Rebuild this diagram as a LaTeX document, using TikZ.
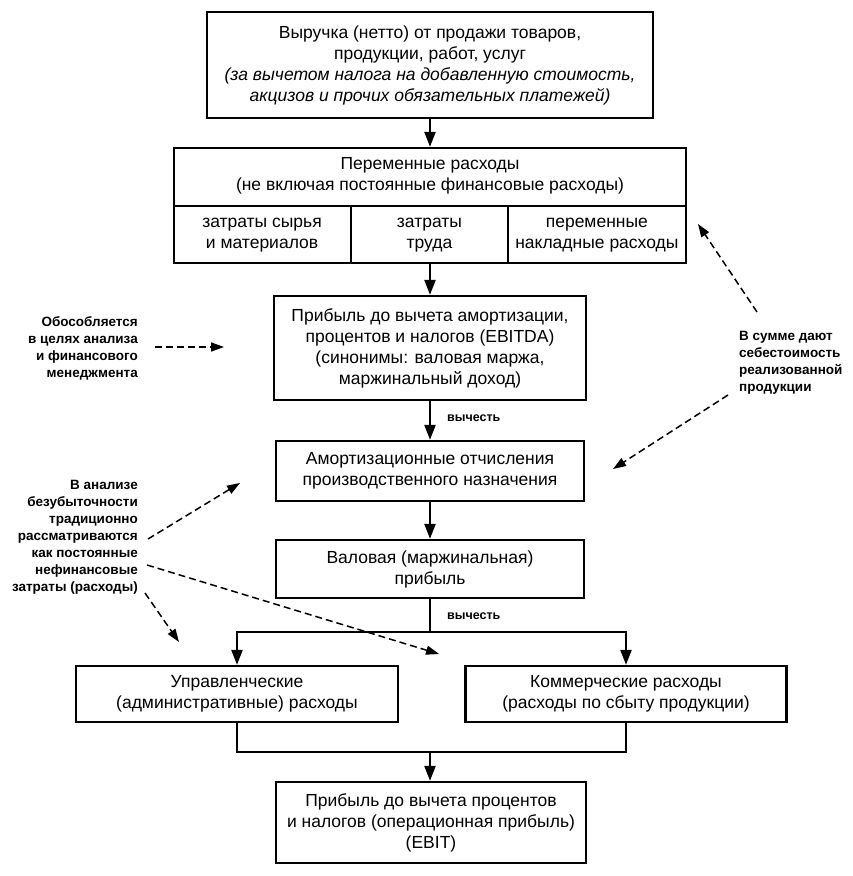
\documentclass[tikz,border=0pt]{standalone}
\usepackage{fontspec}
\setmainfont{Liberation Sans}
\usetikzlibrary{arrows.meta}
\begin{document}
\begin{tikzpicture}[x=1pt,y=-1pt,
  box/.style={draw,line width=2.3pt,align=center,inner sep=0pt,font=\fontsize{17.5}{21}\selectfont},
  cell/.style={align=center,inner sep=0pt,font=\fontsize{17.5}{21}\selectfont},
  divider/.style={line width=1.9pt},
  flow/.style={line width=2.3pt,-{Triangle[length=15pt,width=11pt]}},
  line/.style={line width=2.3pt},
  note/.style={align=right,inner sep=0pt,font=\bfseries\fontsize{13.5}{17}\selectfont},
  notel/.style={align=left,inner sep=0pt,font=\bfseries\fontsize{13.5}{17}\selectfont},
  dasharrow/.style={line width=1.5pt,dash pattern=on 7pt off 4pt,-{Triangle[length=13pt,width=9pt]}},
  small/.style={inner sep=0pt,font=\bfseries\fontsize{12.5}{14}\selectfont}
]
\useasboundingbox (0,0) rectangle (853,876);

\node[box,minimum width=446pt,minimum height=106pt] (top) at (430,65)
 {Выручка (нетто) от продажи товаров,\\продукции, работ, услуг\\
  \itshape (за вычетом налога на добавленную стоимость,\\
  \itshape акцизов и прочих обязательных платежей)};

\node[box,minimum width=512pt,minimum height=115pt] (var) at (430,205.5) {};
\node[cell,minimum width=512pt,minimum height=57pt,anchor=north] (varh) at (var.north)
 {Переменные расходы\\(не включая постоянные финансовые расходы)};
\node[cell,minimum width=178pt,minimum height=58pt,anchor=south west] (c1) at (var.south west)
 {затраты сырья\\и материалов};
\node[cell,minimum width=156pt,minimum height=58pt,anchor=west] (c2) at (c1.east)
 {затраты\\труда};
\node[cell,minimum width=178pt,minimum height=58pt,anchor=west] (c3) at (c2.east)
 {переменные\\накладные расходы};
\draw[divider] (var.west |- c1.north) -- (var.east |- c1.north);
\draw[divider] (c1.north east) -- (c1.south east);
\draw[divider] (c3.north west) -- (c3.south west);

\node[box,minimum width=312pt,minimum height=104pt] (ebitda) at (430,348)
 {Прибыль до вычета амортизации,\\процентов и налогов (EBITDA)\\(синонимы: валовая маржа,\\маржинальный доход)};
\node[box,minimum width=308pt,minimum height=60pt] (amort) at (430,471)
 {Амортизационные отчисления\\производственного назначения};
\node[box,minimum width=308pt,minimum height=58pt] (gross) at (430,569)
 {Валовая (маржинальная)\\прибыль};
\node[box,minimum width=322pt,minimum height=56pt] (mgmt) at (237,694)
 {Управленческие\\(административные) расходы};
\node[box,minimum width=321pt,minimum height=56pt] (comm) at (626,694)
 {Коммерческие расходы\\(расходы по сбыту продукции)};
\node[box,minimum width=310pt,minimum height=81pt] (ebit) at (431,822.5)
 {Прибыль до вычета процентов\\и налогов (операционная прибыль)\\(EBIT)};

% main flow
\draw[flow] (top.south -| ebitda.north) -- (var.north -| ebitda.north);
\draw[flow] (var.south -| ebitda.north) -- (ebitda.north);
\draw[flow] (ebitda.south) -- (amort.north -| ebitda.south);
\node[small,anchor=west] (sub1) at (447,418) {вычесть};
\draw[flow] (amort.south) -- (gross.north);
\coordinate (split) at (430,632);
\draw[line] (gross.south) -- (split);
\draw[flow] (split) -| (mgmt.north);
\draw[flow] (split) -| (comm.north);
\node[small,anchor=west] (sub2) at (447,616) {вычесть};
\coordinate (merge) at (430,752);
\draw[line] (mgmt.south) |- (merge);
\draw[line] (comm.south) |- (merge);
\draw[flow] (merge) -- (merge |- ebit.north);

% side notes
\node[note,anchor=east] (n1) at (138,348)
 {Обособляется\\в целях анализа\\и финансового\\менеджмента};
\coordinate (n1s) at (155,347);
\coordinate (n1e) at (224,347);
\draw[dasharrow] (n1s) -- (n1e);

\node[notel,anchor=west] (n2) at (739,363)
 {В сумме дают\\себестоимость\\реализованной\\продукции};
\coordinate (n2s1) at (757,312);
\coordinate (n2s2) at (728,395);
\coordinate (n2a) at (698,224);
\coordinate (n2b) at (613,469);
\draw[dasharrow] (n2s1) -- (n2a);
\draw[dasharrow] (n2s2) -- (n2b);

\node[note,anchor=east] (n3) at (138,537)
 {В анализе\\безубыточности\\традиционно\\рассматриваются\\как постоянные\\нефинансовые\\затраты (расходы)};
\coordinate (n3s1) at (148,539);
\coordinate (n3s2) at (147,565);
\coordinate (n3s3) at (145,593);
\coordinate (n3a) at (240,483);
\coordinate (n3b) at (439,654);
\coordinate (n3c) at (179,642);
\draw[dasharrow] (n3s1) -- (n3a);
\draw[dasharrow] (n3s2) -- (n3b);
\draw[dasharrow] (n3s3) -- (n3c);
\end{tikzpicture}
\end{document}
